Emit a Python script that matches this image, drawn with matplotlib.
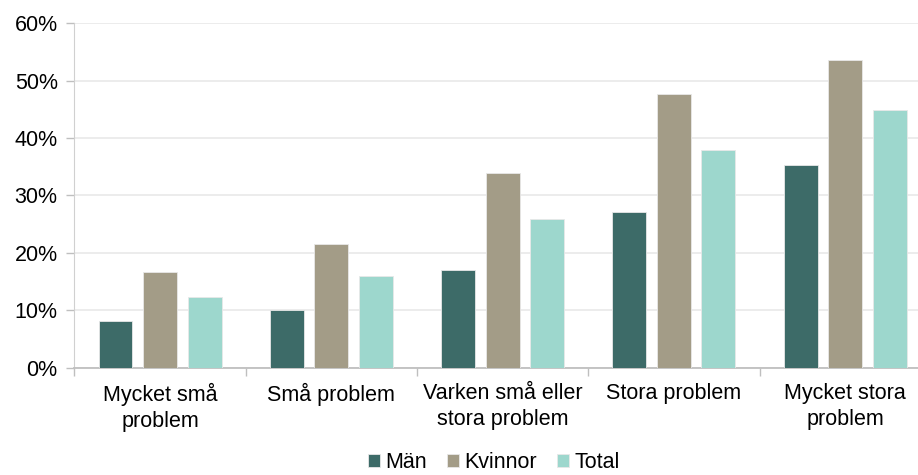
import numpy as np
import matplotlib
matplotlib.use("Agg")
import matplotlib.pyplot as plt
from matplotlib.ticker import PercentFormatter

plt.rcParams['font.family'] = ['Liberation Sans', 'DejaVu Sans']

categories = ["Mycket små\nproblem", "Små problem", "Varken små eller\nstora problem",
              "Stora problem", "Mycket stora\nproblem"]
series_names = ["Män", "Kvinnor", "Total"]
man = [8.1, 10.1, 17.1, 27.2, 35.3]
kvinnor = [16.7, 21.6, 34.0, 47.6, 53.6]
total = [12.3, 15.9, 25.9, 37.9, 44.9]
colors = ["#3D6B68", "#A39C87", "#9DD7CD"]

fig = plt.figure(figsize=(9.18, 4.75), dpi=100)
ax = fig.add_axes([0.081, 0.226, 1.014 - 0.081, 0.951 - 0.226])

x = np.arange(len(categories))
pitch = 0.26
width = 0.198
for i, (vals, name, col) in enumerate(zip([man, kvinnor, total], series_names, colors)):
    ax.bar(x + (i - 1) * pitch, vals, width, color=col, label=name,
           edgecolor="#E8E8E8", linewidth=0.6, zorder=3)

ax.set_ylim(0, 60)
ax.set_yticks(range(0, 61, 10))
ax.yaxis.set_major_formatter(PercentFormatter(decimals=0))
ax.set_xlim(-0.5, len(categories) - 0.5)

# boundaries get the tick marks, centres get the labels
ax.set_xticks(np.arange(-0.5, len(categories), 1.0))
ax.set_xticklabels([])
ax.set_xticks(x, minor=True)
ax.set_xticklabels(categories, minor=True, fontsize=15.5, linespacing=1.3)
ax.tick_params(axis="x", which="major", length=6, color="#BFBFBF", width=1)
ax.tick_params(axis="x", which="minor", length=0, pad=11)
ax.tick_params(axis="y", length=6, color="#BFBFBF", width=1, labelsize=15.5, pad=6)

ax.grid(axis="y", color="#E9E9E9", linewidth=1.2, zorder=0)
for s in ["top", "right"]:
    ax.spines[s].set_visible(False)
ax.spines["left"].set_color("#D0D0D0")
ax.spines["bottom"].set_color("#BFBFBF")
ax.spines["bottom"].set_linewidth(1.3)

fig.legend(loc="center", bbox_to_anchor=(0.538, 0.026), ncol=3, frameon=False,
           fontsize=15.5, handlelength=0.55, handleheight=0.55, handletextpad=0.25,
           columnspacing=0.95, borderpad=0)

fig.savefig("out.png", dpi=100)
